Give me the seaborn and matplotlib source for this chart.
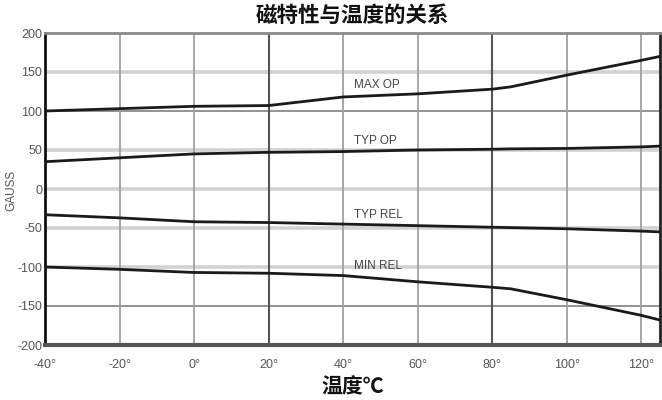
import numpy as np
import pandas as pd
import matplotlib
matplotlib.use('Agg')
import matplotlib.pyplot as plt
import seaborn as sns

sns.set_theme(style="white")
plt.rcParams['font.family'] = ['Noto Sans CJK SC', 'DejaVu Sans']
plt.rcParams['axes.unicode_minus'] = False

# ---- data ----
temps = [-40, -20, 0, 20, 40, 60, 80, 85, 100, 120, 125]
max_op = [100, 103, 106, 107, 118, 122, 128, 131, 146, 165, 170]
typ_op = [35, 40, 45, 47, 48, 50, 51, 51.5, 52, 54, 55]
typ_rel = [-33, -37, -42, -43, -45, -47, -49, -49.5, -51, -54, -55]
min_rel = [-100, -103, -107, -108, -111, -119, -126, -128, -142, -162, -168]

series_names = ['MAX OP', 'TYP OP', 'TYP REL', 'MIN REL']
label_y = [133, 61, -33, -99]
label_x = 43

x_ticks = [-40, -20, 0, 20, 40, 60, 80, 100, 120]
x_tick_labels = [f'{t}°' for t in x_ticks]
y_ticks = [200, 150, 100, 50, 0, -50, -100, -150, -200]

df = pd.DataFrame({
    'temp': temps * 4,
    'gauss': max_op + typ_op + typ_rel + min_rel,
    'curve': sum([[n] * len(temps) for n in series_names], []),
})

small_font = ['Liberation Sans', 'DejaVu Sans']

fig = plt.figure(figsize=(6.62, 4.0), dpi=100)
ax = fig.add_axes([0.068, 0.1375, 0.929, 0.78])

# grid lines, styled like the scanned datasheet
dark_h = {100, -150}
for y in y_ticks[1:-1]:
    if y in dark_h:
        ax.axhline(y, color='#8a8a8a', lw=1.3, zorder=1)
    else:
        ax.axhline(y, color='#d2d2d2', lw=2.6, zorder=1)
for x in x_ticks[1:]:
    if x in (20, 80):
        ax.axvline(x, color='#555555', lw=1.5, zorder=1)
    else:
        ax.axvline(x, color='#a0a0a0', lw=1.3, zorder=1)

sns.lineplot(data=df, x='temp', y='gauss', units='curve', estimator=None,
             color='#1a1a1a', lw=2.0, ax=ax, zorder=3, legend=False)

for name, ly in zip(series_names, label_y):
    ax.text(label_x, ly, name, fontsize=8.5, color='#444444', va='center',
            ha='left', family=small_font)

ax.set_xlim(-40, 125)
ax.set_ylim(-200, 200)
ax.set_xticks(x_ticks)
ax.set_xticklabels(x_tick_labels)
ax.set_yticks(y_ticks)
for lab in ax.get_xticklabels() + ax.get_yticklabels():
    lab.set_family(small_font)
    lab.set_fontsize(9)
    lab.set_color('#555555')
ax.tick_params(axis='x', length=0, pad=10)
ax.tick_params(axis='y', length=0, pad=2)

ax.spines['left'].set_color('#111111')
ax.spines['left'].set_linewidth(2)
ax.spines['right'].set_color('#222222')
ax.spines['right'].set_linewidth(2)
ax.spines['top'].set_color('#8a8a8a')
ax.spines['top'].set_linewidth(2)
ax.spines['bottom'].set_color('#555555')
ax.spines['bottom'].set_linewidth(3)

ax.set_xlabel('温度℃', fontsize=15, fontweight='bold', color='#111111', labelpad=4)
ax.set_ylabel('')
fig.text(0.017, 0.525, 'GAUSS', rotation=90, fontsize=8.5, color='#555555',
         ha='center', va='center', family=small_font)
fig.text(0.533, 0.962, '磁特性与温度的关系', fontsize=15.5, fontweight='bold',
         ha='center', va='center', color='#111111')

fig.savefig('out.png', dpi=100)
